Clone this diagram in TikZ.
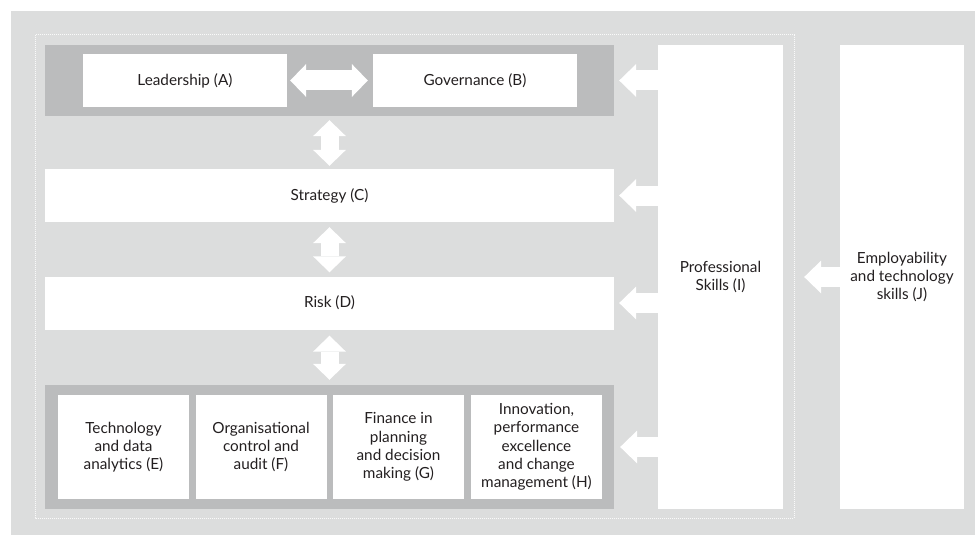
\documentclass[tikz,border=0pt]{standalone}
\usepackage{fontspec}
\setmainfont{Lato}
\usepackage{tikz}
\usetikzlibrary{arrows.meta,positioning,calc}
\definecolor{panel}{HTML}{DCDDDD}
\definecolor{band}{HTML}{BBBCBD}
\definecolor{ink}{HTML}{231F20}
\tikzset{skill/.style={rectangle, fill=white, inner sep=0pt, align=center, text=ink, font=\fontsize{15.3}{18.3}\selectfont},
	group/.style={rectangle, fill=band, inner sep=0pt},
	push/.style={draw=white, line width=20pt, -{Triangle[width=33pt,length=17pt,line width=0pt]}},
	link/.style={draw=white, line width=20pt, {Triangle[width=33pt,length=16pt,line width=0pt]}-{Triangle[width=33pt,length=16pt,line width=0pt]}}}

\begin{document}
\begin{tikzpicture}[x=1pt,y=-1pt]
	\useasboundingbox (0,0) rectangle (975,535);
	\fill [panel] (11,11) rectangle (975,535);
	\draw [white!85!panel, line width=1pt, dash pattern=on 1pt off 1pt] (35,35) rectangle (794,518);
	\node [group, minimum width=569pt, minimum height=71pt] (topband) at (329.5,80.5) {};
	\node [skill, minimum width=204pt, minimum height=53pt] (lead) at (185,80.5) {Leadership (A)};
	\node [skill, minimum width=204pt, minimum height=53pt] (gov) at (475,80.5) {Governance (B)};
	\node [skill, minimum width=569pt, minimum height=53pt] (strat) at (329.5,195.5) {Strategy (C)};
	\node [skill, minimum width=569pt, minimum height=53pt] (risk) at (329.5,303) {Risk (D)};
	\node [group, minimum width=569pt, minimum height=124pt] (lowband) at (329.5,447) {};
	\node [skill, minimum width=131pt, minimum height=104pt] (tech) at (123.5,447) {Technology\\and data\\analytics (E)};
	\node [skill, minimum width=131pt, minimum height=104pt] (audit) at (261,447) {Organisational\\control and\\audit (F)};
	\node [skill, minimum width=131pt, minimum height=104pt] (fin) at (398.5,447) {Finance in\\planning\\and decision\\making (G)};
	\node [skill, minimum width=131pt, minimum height=104pt] (innov) at (536.5,447) {Innovation,\\performance\\excellence\\and change\\management (H)};
	\node [skill, minimum width=125pt, minimum height=464pt] (prof) at (720.5,277) {Professional\\Skills (I)};
	\node [skill, minimum width=124pt, minimum height=464pt] (emp) at (902,277) {Employability\\and technology\\skills (J)};
	\draw [link, shorten <=3pt, shorten >=5pt] (lead.east) -- (gov.west);
	\draw [link, line width=18pt, shorten <=4pt, shorten >=3pt] (topband.south) -- (strat.north);
	\draw [link, line width=18pt, shorten <=5pt, shorten >=4pt] (strat.south) -- (risk.north);
	\draw [link, line width=18pt, shorten <=6pt, shorten >=5pt] (risk.south) -- (lowband.north);
	\draw [push, shorten >=5pt] (topband.east -| prof.west) -- (topband.east);
	\draw [push, shorten >=5pt] (strat.east -| prof.west) -- (strat.east);
	\draw [push, shorten >=5pt] (risk.east -| prof.west) -- (risk.east);
	\draw [push, shorten >=6pt] (lowband.east -| prof.west) -- (lowband.east);
	\draw [push, shorten >=21pt] (emp.west) -- (prof.east);
\end{tikzpicture}
\end{document}
